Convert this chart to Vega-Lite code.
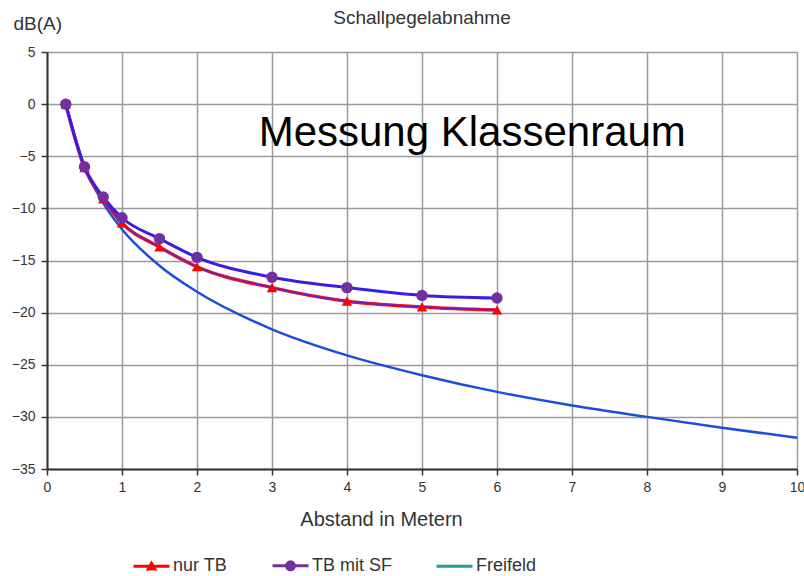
{
  "$schema": "https://vega.github.io/schema/vega-lite/v6.json",
  "width": 750,
  "height": 417,
  "autosize": "none",
  "padding": {"left": 47, "top": 52, "right": 7, "bottom": 107},
  "background": "white",
  "title": {"text": "Schallpegelabnahme", "fontSize": 19, "fontWeight": "normal", "color": "#333333", "font": "Liberation Sans", "anchor": "middle", "offset": -14},
  "config": {
    "font": "Liberation Sans",
    "view": {"stroke": null},
    "axis": {"labelFont": "Liberation Sans", "titleFont": "Liberation Sans", "labelColor": "#333333", "titleColor": "#333333", "labelFontSize": 14, "titleFontSize": 19, "titleFontWeight": "normal", "labelFlush": false, "format": "d", "domainColor": "#333333", "domainWidth": 2, "tickColor": "#333333", "tickWidth": 1.5, "tickSize": 6, "gridColor": "#9a9a9a", "gridWidth": 1.5, "gridOpacity": 1}
  },
  "datasets": {
    "messung": [
      {"series": "nur TB", "x": 0.25, "y": 0},
      {"series": "nur TB", "x": 0.5, "y": -6.1},
      {"series": "nur TB", "x": 0.75, "y": -9.1},
      {"series": "nur TB", "x": 1, "y": -11.4},
      {"series": "nur TB", "x": 1.5, "y": -13.7},
      {"series": "nur TB", "x": 2, "y": -15.6},
      {"series": "nur TB", "x": 3, "y": -17.6},
      {"series": "nur TB", "x": 4, "y": -18.9},
      {"series": "nur TB", "x": 5, "y": -19.45},
      {"series": "nur TB", "x": 6, "y": -19.75},
      {"series": "TB mit SF", "x": 0.25, "y": 0},
      {"series": "TB mit SF", "x": 0.5, "y": -6.0},
      {"series": "TB mit SF", "x": 0.75, "y": -8.9},
      {"series": "TB mit SF", "x": 1, "y": -10.9},
      {"series": "TB mit SF", "x": 1.5, "y": -12.9},
      {"series": "TB mit SF", "x": 2, "y": -14.7},
      {"series": "TB mit SF", "x": 3, "y": -16.6},
      {"series": "TB mit SF", "x": 4, "y": -17.6},
      {"series": "TB mit SF", "x": 5, "y": -18.35},
      {"series": "TB mit SF", "x": 6, "y": -18.6},
      {"series": "Freifeld", "x": 0.25, "y": 0},
      {"series": "Freifeld", "x": 0.5, "y": -6.0},
      {"series": "Freifeld", "x": 0.75, "y": -9.5},
      {"series": "Freifeld", "x": 1, "y": -12.0},
      {"series": "Freifeld", "x": 1.5, "y": -15.5},
      {"series": "Freifeld", "x": 2, "y": -18.0},
      {"series": "Freifeld", "x": 3, "y": -21.6},
      {"series": "Freifeld", "x": 4, "y": -24.1},
      {"series": "Freifeld", "x": 5, "y": -26.0},
      {"series": "Freifeld", "x": 6, "y": -27.6},
      {"series": "Freifeld", "x": 7, "y": -28.9},
      {"series": "Freifeld", "x": 8, "y": -30.0},
      {"series": "Freifeld", "x": 9, "y": -31.05},
      {"series": "Freifeld", "x": 10, "y": -32.0}
    ]
  },
  "layer": [
    {
      "data": {"name": "messung"},
      "encoding": {
        "x": {"field": "x", "type": "quantitative", "scale": {"domain": [0, 10], "nice": false},
          "axis": {"values": [0,1,2,3,4,5,6,7,8,9,10], "format": "d", "title": "Abstand in Metern", "titleFontSize": 20, "labelPadding": 5, "titlePadding": 15, "titleX": 334}},
        "y": {"field": "y", "type": "quantitative", "scale": {"domain": [-35, 5], "nice": false},
          "axis": {"values": [-35,-30,-25,-20,-15,-10,-5,0,5], "format": "d", "title": "dB(A)", "titleAngle": 0, "titleAlign": "left", "titleBaseline": "alphabetic", "titleX": -34, "titleY": -23, "labelPadding": 6}}
      },
      "layer": [
        {"transform": [{"filter": "datum.series === 'Freifeld'"}],
         "mark": {"type": "line", "color": "#1a4fdc", "strokeWidth": 2.5, "interpolate": "monotone"}},
        {"transform": [{"filter": "datum.series === 'nur TB'"}],
         "mark": {"type": "line", "color": "#ff1010", "strokeWidth": 3.5, "interpolate": "monotone"}},
        {"transform": [{"filter": "datum.series === 'nur TB'"}],
         "mark": {"type": "line", "color": "#6a20c0", "strokeWidth": 1.6, "interpolate": "monotone"}},
        {"transform": [{"filter": "datum.series === 'TB mit SF'"}],
         "mark": {"type": "line", "color": "#3a1ee6", "strokeWidth": 3, "interpolate": "monotone"}},
        {"transform": [{"filter": "datum.series === 'nur TB'"}],
         "mark": {"type": "point", "shape": "triangle-up", "filled": true, "color": "#ff0000", "opacity": 1, "size": 110}},
        {"transform": [{"filter": "datum.series === 'TB mit SF'"}],
         "mark": {"type": "point", "shape": "circle", "filled": true, "color": "#7030a0", "opacity": 1, "size": 130}},
        {"mark": {"type": "point", "opacity": 0, "filled": true},
         "encoding": {
           "fill": {"field": "series", "type": "nominal",
             "scale": {"domain": ["nur TB", "TB mit SF", "Freifeld"], "range": ["#ff0000", "#7030a0", "#1f9b9b"]},
             "legend": {"orient": "none", "legendX": 85, "legendY": 494, "direction": "horizontal", "columns": 3, "title": null,
               "symbolSize": 1296, "symbolStrokeWidth": 3, "symbolOpacity": 1, "labelFontSize": 18, "labelColor": "#333333", "labelOffset": 2, "columnPadding": 38, "padding": 0}},
           "stroke": {"field": "series", "type": "nominal",
             "scale": {"domain": ["nur TB", "TB mit SF", "Freifeld"], "range": ["#ff0000", "#7030a0", "#1f9b9b"]},
             "legend": {"orient": "none", "legendX": 85, "legendY": 494, "direction": "horizontal", "columns": 3, "title": null,
               "symbolSize": 1296, "symbolStrokeWidth": 3, "symbolOpacity": 1, "labelFontSize": 18, "labelColor": "#333333", "labelOffset": 2, "columnPadding": 38, "padding": 0}},
           "shape": {"field": "series", "type": "nominal",
             "scale": {"domain": ["nur TB", "TB mit SF", "Freifeld"], "range": ["M-1,0H1M-0.18,0.15L0,-0.17L0.18,0.15Z", "M-1,0H1M0.22,0A0.22,0.22,0,1,1,-0.22,0A0.22,0.22,0,1,1,0.22,0Z", "M-1,0H1"]},
             "legend": {"orient": "none", "legendX": 85, "legendY": 494, "direction": "horizontal", "columns": 3, "title": null,
               "symbolSize": 1296, "symbolStrokeWidth": 3, "symbolOpacity": 1, "labelFontSize": 18, "labelColor": "#333333", "labelOffset": 2, "columnPadding": 38, "padding": 0}}
         }}
      ]
    },
    {"data": {"values": [{"label": "Messung Klassenraum"}]},
     "mark": {"type": "text", "font": "Liberation Sans", "fontSize": 42, "color": "#000000", "align": "center", "baseline": "alphabetic"},
     "encoding": {"x": {"datum": 5.67, "type": "quantitative"}, "y": {"datum": -4.0, "type": "quantitative"}, "text": {"field": "label", "type": "nominal"}}}
  ]
}
